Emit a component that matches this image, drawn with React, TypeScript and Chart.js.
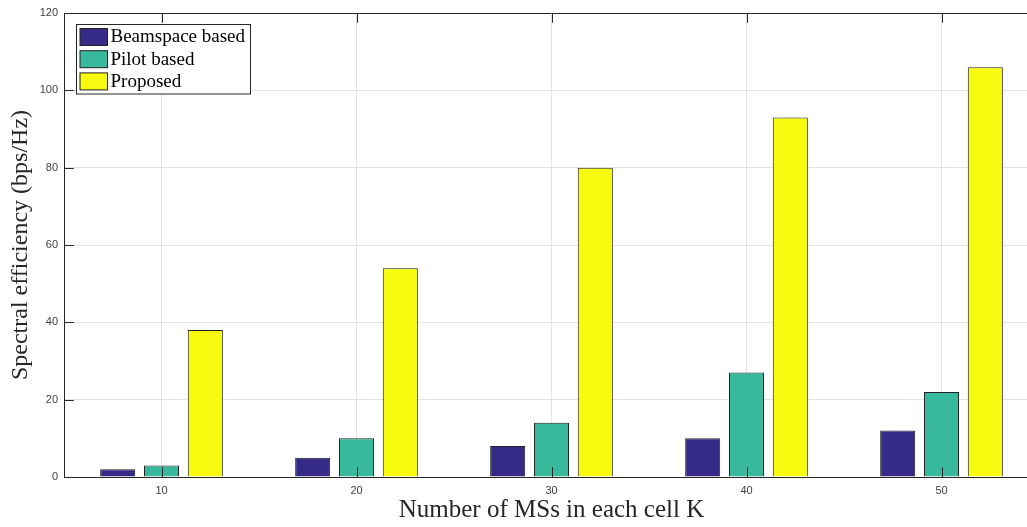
import React, { useEffect, useRef } from "react";
import { Chart, registerables } from "chart.js";

Chart.register(...registerables);

const categories = ["10", "20", "30", "40", "50"];
const seriesLabels = ["Beamspace based", "Pilot based", "Proposed"];
const beamspace = [2, 5, 8, 10, 12];
const pilot = [3, 10, 14, 27, 22];
const proposed = [38, 54, 80, 93, 106];
const yTicks = [0, 20, 40, 60, 80, 100, 120];
const seriesColors = ["#352a87", "#38b99e", "#f9fb0e"];

const SERIF = "'Liberation Serif', 'Times New Roman', Times, serif";
const SANS = "'Liberation Sans', Helvetica, Arial, sans-serif";
const AXIS = "#262626";

const framePlugin = {
  id: "frame",
  afterDatasetsDraw(chart: any) {
    const { ctx, chartArea, scales } = chart;
    const { left, right, top, bottom } = chartArea;
    const x = scales.x;
    const y = scales.y;
    const tl = 9.75;
    ctx.save();
    ctx.strokeStyle = AXIS;
    ctx.lineWidth = 1;
    ctx.beginPath();
    ctx.moveTo(left, Math.round(top) + 0.5);
    ctx.lineTo(right, Math.round(top) + 0.5);
    ctx.moveTo(Math.round(right) - 0.5, top);
    ctx.lineTo(Math.round(right) - 0.5, bottom);
    y.ticks.forEach((t: any) => {
      const py = Math.round(y.getPixelForValue(t.value)) + 0.5;
      ctx.moveTo(left, py);
      ctx.lineTo(left + tl, py);
      ctx.moveTo(right, py);
      ctx.lineTo(right - tl, py);
    });
    categories.forEach((_, i) => {
      const px = Math.round(x.getPixelForValue(i)) + 0.5;
      ctx.moveTo(px, bottom);
      ctx.lineTo(px, bottom - tl);
      ctx.moveTo(px, top);
      ctx.lineTo(px, top + tl);
    });
    ctx.stroke();
    ctx.restore();
  },
  afterDraw(chart: any) {
    const { ctx, chartArea } = chart;
    const bx = chartArea.left + 12.5;
    const by = chartArea.top + 11.5;
    const bw = 174;
    const bh = 69.5;
    ctx.save();
    ctx.fillStyle = "#ffffff";
    ctx.fillRect(bx, by, bw, bh);
    ctx.strokeStyle = AXIS;
    ctx.lineWidth = 1;
    ctx.strokeRect(bx, by, bw, bh);
    ctx.font = `19px ${SERIF}`;
    ctx.textBaseline = "middle";
    ctx.textAlign = "left";
    chart.data.datasets.forEach((ds: any, i: number) => {
      const py = by + 4 + i * 22.2;
      ctx.fillStyle = ds.backgroundColor;
      ctx.fillRect(bx + 3.5, py, 27.5, 17);
      ctx.strokeStyle = "#222";
      ctx.strokeRect(bx + 3.5, py, 27.5, 17);
      ctx.fillStyle = "#000";
      ctx.fillText(ds.label, bx + 34, py + 9);
    });
    ctx.restore();
  },
};

export default function App() {
  const ref = useRef<HTMLCanvasElement | null>(null);

  useEffect(() => {
    if (!ref.current) return;
    const datasets = [beamspace, pilot, proposed].map((data, i) => ({
      label: seriesLabels[i],
      data,
      backgroundColor: seriesColors[i],
      borderColor: "#222",
      borderWidth: 1,
      barPercentage: 0.8,
      categoryPercentage: 0.674,
    }));
    const chart = new Chart(ref.current, {
      type: "bar",
      data: { labels: categories, datasets },
      options: {
        responsive: false,
        animation: false,
        devicePixelRatio: 1,
        layout: { padding: { left: 0, right: 6, top: 13, bottom: 0 } },
        plugins: {
          legend: { display: false },
          tooltip: { enabled: false },
        },
        scales: {
          x: {
            type: "category",
            offset: true,
            afterFit: (s: any) => {
              s.height = 50;
            },
            grid: {
              display: true,
              offset: false,
              color: "#e3e3e3",
              drawTicks: false,
            },
            border: { display: true, color: AXIS, width: 1 },
            ticks: {
              padding: 7,
              color: "#404040",
              font: { family: SANS, size: 11 },
              maxRotation: 0,
            },
            title: {
              display: true,
              text: "Number of MSs in each cell K",
              color: AXIS,
              font: { family: SERIF, size: 25 },
              padding: { top: 0, bottom: 2 },
            },
          },
          y: {
            min: 0,
            max: 120,
            afterFit: (s: any) => {
              s.width = 64;
            },
            afterBuildTicks: (s: any) => {
              s.ticks = yTicks.map((v) => ({ value: v }));
            },
            grid: { color: "#e3e3e3", drawTicks: false },
            border: { display: true, color: AXIS, width: 1 },
            ticks: {
              padding: 6,
              color: "#404040",
              font: { family: SANS, size: 11 },
            },
            title: {
              display: true,
              text: "Spectral efficiency (bps/Hz)",
              color: AXIS,
              font: { family: SERIF, size: 24 },
              padding: { top: 6, bottom: 0 },
            },
          },
        },
      },
      plugins: [framePlugin],
    });
    return () => chart.destroy();
  }, []);

  return (
    <div
      style={{
        position: "absolute",
        left: 0,
        top: 0,
        width: 1027,
        height: 527,
        overflow: "hidden",
        background: "#fff",
      }}
    >
      <canvas ref={ref} width={1045} height={527} style={{ display: "block" }} />
    </div>
  );
}
